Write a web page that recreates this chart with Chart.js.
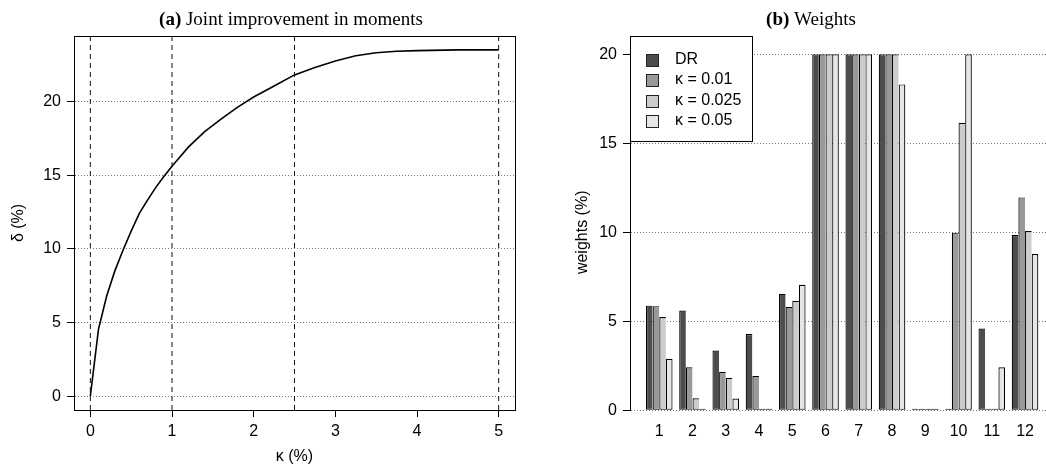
<!DOCTYPE html>
<html>
<head>
<meta charset="utf-8">
<script src="https://cdn.jsdelivr.net/npm/chart.js@4.4.1/dist/chart.umd.min.js"></script>
<style>
    html, body { margin: 0; padding: 0; background: #fff; overflow: hidden; }
    #wrap { position: relative; width: 1046px; height: 470px; overflow: hidden; }
    #grafico1 { position: absolute; left: 0; top: 0; }
    #grafico2 { position: absolute; left: 520px; top: 0; }
</style>
</head>
<body>
<div id="wrap">
    <canvas id="grafico1" width="520" height="470"></canvas>
    <canvas id="grafico2" width="540" height="470"></canvas>
</div>
<script>
// (a) joint improvement in moments
const kappa = [0, 0.1, 0.2, 0.3, 0.4, 0.5, 0.6, 0.7, 0.8, 0.9, 1.0, 1.2, 1.4, 1.6, 1.8, 2.0, 2.25, 2.5, 2.75, 3.0, 3.25, 3.5, 3.75, 4.0, 4.5, 5.0];
const delta = [0, 4.55, 6.8, 8.5, 9.9, 11.2, 12.4, 13.3, 14.15, 14.9, 15.6, 16.9, 17.95, 18.8, 19.6, 20.3, 21.05, 21.8, 22.3, 22.75, 23.1, 23.3, 23.4, 23.45, 23.5, 23.5];
const kappaTicks = [0, 1, 2, 3, 4, 5];
const deltaTicks = [0, 5, 10, 15, 20];
const kappaMarcas = [0, 1, 2.5, 5];

// (b) weights
const ativos = ['1', '2', '3', '4', '5', '6', '7', '8', '9', '10', '11', '12'];
const pesoDR = [5.88, 5.60, 3.36, 4.29, 6.54, 20, 20, 20, 0, 0, 4.59, 9.85];
const pesoK001 = [5.85, 2.42, 2.16, 1.92, 5.81, 20, 20, 20, 0, 9.98, 0, 11.96];
const pesoK0025 = [5.24, 0.68, 1.82, 0, 6.15, 20, 20, 20, 0, 16.15, 0, 10.07];
const pesoK005 = [2.89, 0, 0.66, 0, 7.05, 20, 20, 18.31, 0, 20, 2.42, 8.78];
const pesoTicks = [0, 5, 10, 15, 20];
const nomesSeries = ['DR', 'κ = 0.01', 'κ = 0.025', 'κ = 0.05'];
const coresSeries = ['#4d4d4d', '#999999', '#cccccc', '#e6e6e6'];

Chart.defaults.font.family = "'Liberation Sans', Arial, sans-serif";
Chart.defaults.font.size = 16;
Chart.defaults.color = '#000';

function px(v) {
    return Math.round(v - 0.5) + 0.5;
}

// titulo com "(a)" em negrito
const tituloPlugin = {
    id: 'tituloPainel',
    afterDraw(chart, args, opts) {
        const ctx = chart.ctx;
        ctx.save();
        ctx.fillStyle = '#000';
        ctx.textBaseline = 'alphabetic';
        ctx.font = "bold 19px 'Liberation Serif', serif";
        const w1 = ctx.measureText(opts.tag + ' ').width;
        ctx.font = "19px 'Liberation Serif', serif";
        const w2 = ctx.measureText(opts.text).width;
        const x0 = opts.x - (w1 + w2) / 2;
        ctx.font = "bold 19px 'Liberation Serif', serif";
        ctx.fillText(opts.tag + ' ', x0, 25);
        ctx.font = "19px 'Liberation Serif', serif";
        ctx.fillText(opts.text, x0 + w1, 25);
        ctx.restore();
    }
};

const caixaPlugin = {
    id: 'caixa',
    afterDraw(chart) {
        const a = chart.chartArea;
        const ctx = chart.ctx;
        ctx.save();
        ctx.strokeStyle = '#000';
        ctx.lineWidth = 1;
        ctx.strokeRect(px(a.left), px(a.top), px(a.right) - px(a.left), px(a.bottom) - px(a.top));
        ctx.restore();
    }
};

const legendaPlugin = {
    id: 'legendaPesos',
    afterDraw(chart) {
        const ctx = chart.ctx;
        const x = px(chart.chartArea.left);
        ctx.save();
        ctx.fillStyle = '#fff';
        ctx.strokeStyle = '#000';
        ctx.lineWidth = 1;
        ctx.fillRect(x, 36.5, 122, 105);
        ctx.strokeRect(x, 36.5, 122, 105);
        ctx.font = "16px 'Liberation Sans', Arial, sans-serif";
        ctx.textBaseline = 'middle';
        chart.data.datasets.forEach((ds, i) => {
            const cy = 59.5 + i * 20.5;
            ctx.fillStyle = ds.backgroundColor;
            ctx.fillRect(126.5, Math.round(cy - 6) + 0.5, 12, 12);
            ctx.strokeStyle = '#222';
            ctx.strokeRect(126.5, Math.round(cy - 6) + 0.5, 12, 12);
            ctx.fillStyle = '#000';
            ctx.fillText(ds.label, 155, cy);
        });
        ctx.restore();
    }
};

function graficoMomentos() {
    const yMin = -0.94, yMax = 24.44;
    const linhasV = kappaMarcas.map(v => ({
        data: [{ x: v, y: yMin }, { x: v, y: yMax }],
        borderColor: '#111',
        borderWidth: 1,
        borderDash: [5, 4],
        pointRadius: 0,
        showLine: true
    }));

    const ctx = document.getElementById('grafico1').getContext('2d');
    const myChart = new Chart(ctx, {
        type: 'scatter',
        plugins: [tituloPlugin, caixaPlugin],
        data: {
            datasets: [
                ...linhasV,
                {
                    data: kappa.map((k, i) => ({ x: k, y: delta[i] })),
                    borderColor: '#000',
                    borderWidth: 1.6,
                    pointRadius: 0,
                    showLine: true,
                    tension: 0
                }
            ]
        },
        options: {
            responsive: false,
            devicePixelRatio: 1,
            animation: false,
            layout: { padding: { left: 0, top: 36, right: 5, bottom: 0 } },
            plugins: {
                legend: { display: false },
                tooltip: { enabled: false },
                tituloPainel: { tag: '(a)', text: 'Joint improvement in moments', x: 291 }
            },
            scales: {
                x: {
                    type: 'linear',
                    min: -0.2,
                    max: 5.2,
                    afterBuildTicks: s => { s.ticks = kappaTicks.map(v => ({ value: v })); },
                    afterFit: s => { s.height = 60; },
                    grid: { drawOnChartArea: false, drawTicks: true, tickLength: 7, color: '#000' },
                    border: { display: true, color: '#000', width: 1 },
                    ticks: { padding: 5, maxRotation: 0, autoSkip: false, color: '#000' },
                    title: { display: true, text: 'κ (%)', color: '#000', font: { size: 16 }, padding: { top: 0, bottom: 4 } }
                },
                y: {
                    min: yMin,
                    max: yMax,
                    afterBuildTicks: s => { s.ticks = deltaTicks.map(v => ({ value: v })); },
                    afterFit: s => { s.width = 74; },
                    grid: { color: '#777', tickColor: '#000', tickLength: 7 },
                    border: { display: true, color: '#000', width: 1, dash: [1, 2] },
                    ticks: { padding: 6, color: '#000' },
                    title: { display: true, text: 'δ (%)', color: '#000', font: { size: 16 }, padding: { top: 9, bottom: 0 } }
                }
            }
        }
    });
}

function graficoPesos() {
    const series = [pesoDR, pesoK001, pesoK0025, pesoK005];
    const ctx = document.getElementById('grafico2').getContext('2d');
    const myChart = new Chart(ctx, {
        type: 'bar',
        plugins: [tituloPlugin, legendaPlugin],
        data: {
            datasets: series.map((s, j) => ({
                label: nomesSeries[j],
                data: s.map((v, i) => ({ x: i + 1, y: v })),
                backgroundColor: coresSeries[j],
                borderColor: '#000',
                borderWidth: { top: 1.2, left: 1.2, bottom: 1, right: j === series.length - 1 ? 1.2 : 0 },
                borderSkipped: false,
                minBarLength: 1.5,
                categoryPercentage: 0.8,
                barPercentage: 1.0
            }))
        },
        options: {
            responsive: false,
            devicePixelRatio: 1,
            animation: false,
            layout: { padding: { left: 0, top: 54.3, right: 5.7, bottom: 0 } },
            plugins: {
                legend: { display: false },
                tooltip: { enabled: false },
                tituloPainel: { tag: '(b)', text: 'Weights', x: 291 }
            },
            scales: {
                x: {
                    type: 'linear',
                    offset: false,
                    min: 0.12,
                    max: 12.88,
                    afterBuildTicks: s => { s.ticks = ativos.map((a, i) => ({ value: i + 1 })); },
                    afterFit: s => { s.height = 59.7; s.paddingLeft = 0; s.paddingRight = 0; },
                    grid: { display: false, drawTicks: false, offset: false },
                    border: { display: false },
                    ticks: {
                        padding: 12,
                        maxRotation: 0,
                        autoSkip: false,
                        color: '#000',
                        callback: v => ativos[v - 1]
                    }
                },
                y: {
                    min: 0,
                    max: 20,
                    afterBuildTicks: s => { s.ticks = pesoTicks.map(v => ({ value: v })); },
                    afterFit: s => { s.width = 110; },
                    grid: { color: '#777', tickColor: '#000', tickLength: 7 },
                    border: { display: true, color: '#000', width: 1, dash: [1, 2] },
                    ticks: { padding: 6, color: '#000' },
                    title: { display: true, text: 'weights (%)', color: '#000', font: { size: 16 }, padding: { top: 53, bottom: 0 } }
                }
            }
        }
    });
}

window.onload = function () {
    graficoMomentos();
    graficoPesos();
}
</script>
</body>
</html>
